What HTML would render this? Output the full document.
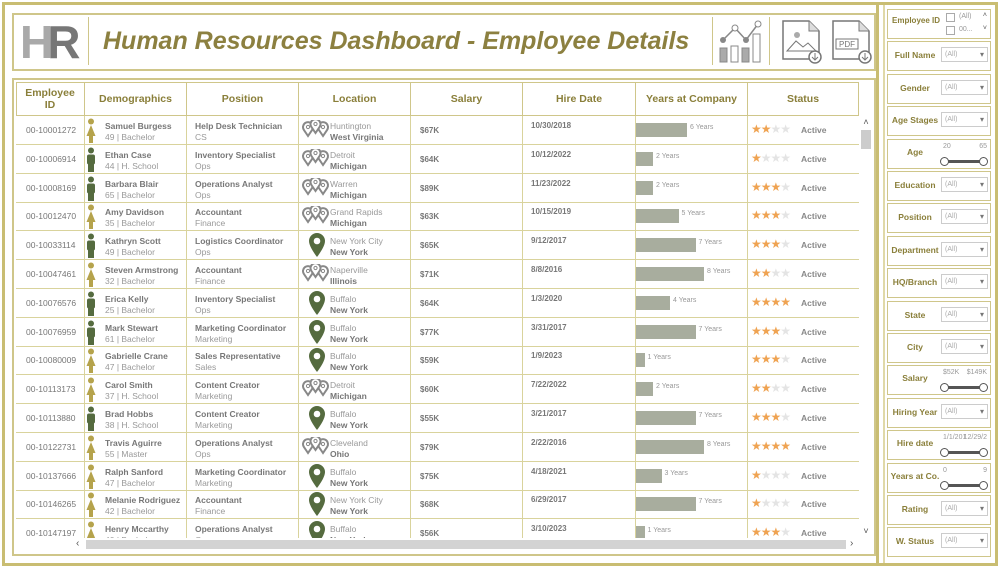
<!DOCTYPE html>
<html><head><meta charset="utf-8">
<style>
*{box-sizing:border-box;margin:0;padding:0}
body{width:1000px;height:568px;background:#fff;font-family:"Liberation Sans",sans-serif;position:relative;overflow:hidden}
.abs{position:absolute}
.gb{border:2px solid #cfc68a}
.hd{position:absolute;top:82px;height:33px;color:#8a7f3a;font-weight:bold;font-size:10.5px;display:flex;align-items:center;justify-content:center;text-align:center;border-right:1px solid #cfc68a;line-height:12px}
.row{position:absolute;left:16px;width:843px;height:29px;border-bottom:1px solid #d9d39c}
.c{position:absolute;top:0;height:28px;border-right:1px solid #d9d39c}
.b1{font-size:8.5px;font-weight:bold;color:#777;position:absolute;white-space:nowrap}
.b2{font-size:8.5px;color:#999;position:absolute;white-space:nowrap}
.flt{position:absolute;left:887px;width:104px;height:30px;border:1px solid #cfc68a}
.fl{position:absolute;top:10px;font-size:8.5px;font-weight:bold;color:#8a7f3a;white-space:nowrap}
.dd{position:absolute;left:53px;top:5px;width:47px;height:15px;border:1px solid #ccc;font-size:7px;color:#aaa;padding:3px 3px}
.dd:after{content:"▾";position:absolute;right:3px;top:2px;color:#777;font-size:8px}
.sl{position:absolute;left:55px;top:20px;width:42px;height:3px;background:#555;border-radius:2px}
.sl:before,.sl:after{content:"";position:absolute;top:-3px;width:7px;height:7px;border:1px solid #555;border-radius:50%;background:#fff}
.sl:before{left:-3px}.sl:after{right:-3px}
.sv{position:absolute;top:3px;font-size:7px;color:#999}
</style></head><body>
<div class="abs" style="left:2px;top:2px;width:996px;height:564px;border:3px solid #c9bd72"></div>
<div class="abs" style="left:5px;top:5px;width:874px;height:558px;border-right:3px solid #c9bd72"></div>

<div class="abs gb" style="left:12px;top:13px;width:864px;height:58px"></div>
<div class="abs" style="left:20px;top:18px;font-size:46px;font-weight:bold;letter-spacing:-6px;line-height:48px"><span style="color:#a9a9a9">H</span><span style="color:#777">R</span></div>
<div class="abs" style="left:88px;top:17px;width:1px;height:48px;background:#cfc68a"></div>
<div class="abs" style="left:103px;top:27px;font-size:25px;font-weight:bold;font-style:italic;color:#8c8040;white-space:nowrap">Human Resources Dashboard - Employee Details</div>
<div class="abs" style="left:712px;top:17px;width:1px;height:48px;background:#cfc68a"></div>
<div class="abs" style="left:769px;top:17px;width:1px;height:48px;background:#cfc68a"></div>
<svg class="abs" style="left:718px;top:18px" width="48" height="46"><polyline points="5,22 17,10 28,22 40,6" fill="none" stroke="#888" stroke-width="1.5"/><circle cx="5" cy="22" r="3" fill="#888"/><circle cx="17" cy="10" r="3" fill="#fff" stroke="#888"/><circle cx="28" cy="22" r="3" fill="#888"/><circle cx="40" cy="6" r="3" fill="#fff" stroke="#888"/><rect x="2" y="30" width="7" height="14" fill="#aaa" stroke="#888"/><rect x="13" y="28" width="7" height="16" fill="#fff" stroke="#888"/><rect x="24" y="30" width="7" height="14" fill="#aaa" stroke="#888"/><rect x="35" y="16" width="7" height="28" fill="#fff" stroke="#888"/></svg>
<svg class="abs" style="left:780px;top:18px" width="44" height="46"><path d="M3 3h26l10 10v28H3z" fill="#fff" stroke="#777" stroke-width="1.5"/><path d="M29 3v10h10" fill="#ddd" stroke="#777"/><path d="M7 33l9-10 7 6 5-4 8 8z" fill="none" stroke="#777"/><circle cx="17" cy="17" r="3" fill="#aaa"/><circle cx="35" cy="39" r="6" fill="#fff" stroke="#777" stroke-width="1.5"/><path d="M35 35v7M32 39l3 3 3-3" fill="none" stroke="#777"/></svg>
<svg class="abs" style="left:830px;top:18px" width="44" height="46"><path d="M3 3h26l10 10v28H3z" fill="#fff" stroke="#777" stroke-width="1.5"/><path d="M29 3v10h10" fill="#ddd" stroke="#777"/><rect x="6" y="21" width="22" height="10" fill="#fff" stroke="#777"/><text x="9" y="29" font-size="8" fill="#777" font-family="Liberation Sans">PDF</text><circle cx="35" cy="39" r="6" fill="#fff" stroke="#777" stroke-width="1.5"/><path d="M35 35v7M32 39l3 3 3-3" fill="none" stroke="#777"/></svg>

<div class="abs gb" style="left:12px;top:78px;width:864px;height:478px"></div>
<div class="abs" style="left:16px;top:82px;width:843px;height:34px;border:1px solid #cfc68a;border-right:none"></div>
<div id="hdrs"></div>
<div class="abs" id="body" style="left:0;top:116px;width:860px;height:422px;overflow:hidden"></div>
<div class="abs" style="left:859px;top:116px;width:14px;height:422px;background:#fff"><div style="font-size:9px;color:#555;text-align:center;margin-top:1px">˄</div><div style="position:absolute;left:2px;top:14px;width:10px;height:19px;background:#ccc"></div><div style="position:absolute;bottom:2px;width:14px;font-size:9px;color:#555;text-align:center">˅</div></div>
<div class="abs" style="left:16px;top:538px;width:843px;height:13px;background:#fff"><div style="position:absolute;left:60px;top:0;font-size:10px;color:#555">‹</div><div style="position:absolute;left:70px;top:2px;width:760px;height:9px;background:#d3d3d3"></div><div style="position:absolute;left:834px;top:0;font-size:10px;color:#555">›</div></div>

<div class="abs" style="left:883px;top:5px;width:2px;height:558px;background:#e0d9a8"></div>
<div id="filters"></div>

<script>
const ids=["00-10001272","00-10006914","00-10008169","00-10012470","00-10033114","00-10047461","00-10076576","00-10076959","00-10080009","00-10113173","00-10113880","00-10122731","00-10137666","00-10146265","00-10147197"];
const names=["Samuel Burgess","Ethan Case","Barbara Blair","Amy Davidson","Kathryn Scott","Steven Armstrong","Erica Kelly","Mark Stewart","Gabrielle Crane","Carol Smith","Brad Hobbs","Travis Aguirre","Ralph Sanford","Melanie Rodriguez","Henry Mccarthy"];
const ages=[49,44,65,35,49,32,25,61,47,37,38,55,47,42,40];
const edu=["Bachelor","H. School","Bachelor","Bachelor","Bachelor","Bachelor","Bachelor","Bachelor","Bachelor","H. School","H. School","Master","Bachelor","Bachelor","Bachelor"];
const gender=["F","M","M","F","M","F","M","M","F","F","M","F","F","F","F"];
const positions=["Help Desk Technician","Inventory Specialist","Operations Analyst","Accountant","Logistics Coordinator","Accountant","Inventory Specialist","Marketing Coordinator","Sales Representative","Content Creator","Content Creator","Operations Analyst","Marketing Coordinator","Accountant","Operations Analyst"];
const depts=["CS","Ops","Ops","Finance","Ops","Finance","Ops","Marketing","Sales","Marketing","Marketing","Ops","Marketing","Finance","Ops"];
const cities=["Huntington","Detroit","Warren","Grand Rapids","New York City","Naperville","Buffalo","Buffalo","Buffalo","Detroit","Buffalo","Cleveland","Buffalo","New York City","Buffalo"];
const states=["West Virginia","Michigan","Michigan","Michigan","New York","Illinois","New York","New York","New York","Michigan","New York","Ohio","New York","New York","New York"];
const salaries=["$67K","$64K","$89K","$63K","$65K","$71K","$64K","$77K","$59K","$60K","$55K","$79K","$75K","$68K","$56K"];
const hireDates=["10/30/2018","10/12/2022","11/23/2022","10/15/2019","9/12/2017","8/8/2016","1/3/2020","3/31/2017","1/9/2023","7/22/2022","3/21/2017","2/22/2016","4/18/2021","6/29/2017","3/10/2023"];
const years=[6,2,2,5,7,8,4,7,1,2,7,8,3,7,1];
const ratings=[2,1,3,3,3,2,4,3,3,2,3,4,1,1,3];

const cols=[16,85,187,299,411,523,636,748,859];
const headers=["Employee ID","Demographics","Position","Location","Salary","Hire Date","Years at Company","Status"];
const hn=["employee-id-header","demographics-header","position-header","location-header","salary-header","hire-date-header","years-header","status-header"];
const H=document.getElementById('hdrs');
headers.forEach((h,i)=>{const d=document.createElement('div');d.className='hd';


d.style.left=cols[i]+'px';d.style.width=(cols[i+1]-cols[i])+'px';d.innerHTML=i==0?'Employee<br>ID':h;H.appendChild(d);});

const xYears=v=>v*8.5;
const rowH=28.8;
const B=document.getElementById('body');
const person=c=>`<svg width="12" height="26"><circle cx="6" cy="3.5" r="3" fill="${c}"/>${c=='#b5a34c'?'<path d="M6 7 L10.5 18 H8 V25 H4 V18 H1.5Z" fill="'+c+'"/>':'<rect x="2" y="7.5" width="8" height="10" rx="2" fill="'+c+'"/><rect x="3" y="16" width="6" height="9" fill="'+c+'"/>'}</svg>`;
const pin1=`<svg width="20" height="26"><path d="M10 1a8 8 0 0 0-8 8c0 6 8 16 8 16s8-10 8-16a8 8 0 0 0-8-8z" fill="#556b3f"/><circle cx="10" cy="9" r="3.3" fill="#fff"/></svg>`;
const tear=(x,y)=>`<path d="M${x} ${y+11}l-4.2-6.2a5 5 0 1 1 8.4 0z" fill="#fff" stroke="#888" stroke-width="2"/><circle cx="${x}" cy="${y+2}" r="1.6" fill="#fff" stroke="#888" stroke-width="1"/>`;
const pin3=`<svg width="28" height="22">${tear(6,5)}${tear(21,5)}${tear(13.5,2)}</svg>`;
function star(n){let s='';for(let k=0;k<4;k++)s+=`<span style="color:${k<n?'#efa352':'#e4e4e4'}">★</span>`;return s;}
ids.forEach((id,i)=>{
 const r=document.createElement('div');r.className='row';
 
 
 r.style.top=(i*rowH)+'px';
 for(let k=1;k<8;k++){const c=document.createElement('div');c.className='c';c.style.left=(cols[k]-16-1)+'px';c.style.width='1px';r.appendChild(c);}
 const gc=gender[i]=='F'?'#b5a34c':'#556b3f';
 const ny=states[i]=='New York';
 r.innerHTML+=`
 <div class="b2" style="left:10px;top:9px;color:#777">${id}</div>
 <div style="position:absolute;left:69px;top:2px">${person(gc)}</div>
 <div class="b1" style="left:89px;top:5px">${names[i]}</div>
 <div class="b2" style="left:89px;top:16px">${ages[i]} | ${edu[i]}</div>
 <div class="b1" style="left:179px;top:5px">${positions[i]}</div>
 <div class="b2" style="left:179px;top:16px">${depts[i]}</div>
 <div style="position:absolute;left:${ny?291:286}px;top:${ny?1:4}px">${ny?pin1:pin3}</div>
 <div class="b2" style="left:314px;top:5px">${cities[i]}</div>
 <div class="b1" style="left:314px;top:16px">${states[i]}</div>
 <div class="b1" style="left:404px;top:10px;font-size:8px">${salaries[i]}</div>
 <div class="b1" style="left:515px;top:5px;font-size:8px">${hireDates[i]}</div>
 <div style="position:absolute;left:620px;top:7px;height:14px;width:${xYears(years[i])}px;background:#a8ad9e"></div>
 <div class="b2" style="left:${623+xYears(years[i])}px;top:8px;font-size:7px">${years[i]} Years</div>
 <div style="position:absolute;left:735px;top:6px;font-size:12px;letter-spacing:-1px">${star(ratings[i])}</div>
 <div class="b1" style="left:785px;top:9px;color:#888">Active</div>`;
 B.appendChild(r);
});

const filters=[["Employee ID","chk"],["Full Name","dd"],["Gender","dd"],["Age Stages","dd"],["Age","sl","20","65"],["Education","dd"],["Position","dd"],["Department","dd"],["HQ/Branch","dd"],["State","dd"],["City","dd"],["Salary","sl","$52K","$149K"],["Hiring Year","dd"],["Hire date","sl","1/1/201","12/29/2"],["Years at Co.","sl","0","9"],["Rating","dd"],["W. Status","dd"]];
const F=document.getElementById('filters');
filters.forEach((f,i)=>{
 const d=document.createElement('div');d.className='flt';
 
 
 d.style.top=(9+i*32.4)+'px';
 let inner='';
 if(f[1]=='dd'){inner=`<div class="fl" style="left:0;width:54px;text-align:center;top:8px">${f[0]}</div><div class="dd">(All)</div>`;}
 if(f[1]=='sl'){inner=`<div class="fl" style="left:0;width:54px;text-align:center;top:7px">${f[0]}</div><div class="sv" style="left:55px">${f[2]}</div><div class="sv" style="right:3px">${f[3]}</div><div class="sl"></div>`;}
 if(f[1]=='chk'){inner=`<div class="fl" style="left:4px;top:6px;font-size:8px">Employee ID</div><div style="position:absolute;left:58px;top:3px;width:9px;height:9px;border:1px solid #aaa"></div><div style="position:absolute;left:58px;top:16px;width:9px;height:9px;border:1px solid #aaa"></div><div class="sv" style="left:71px;top:3px">(All)</div><div class="sv" style="left:71px;top:16px">00...</div><div class="sv" style="right:3px;top:2px;color:#555">˄</div><div class="sv" style="right:3px;top:15px;color:#555">˅</div>`;}
 d.innerHTML=inner;F.appendChild(d);
});
</script>
</body></html>
